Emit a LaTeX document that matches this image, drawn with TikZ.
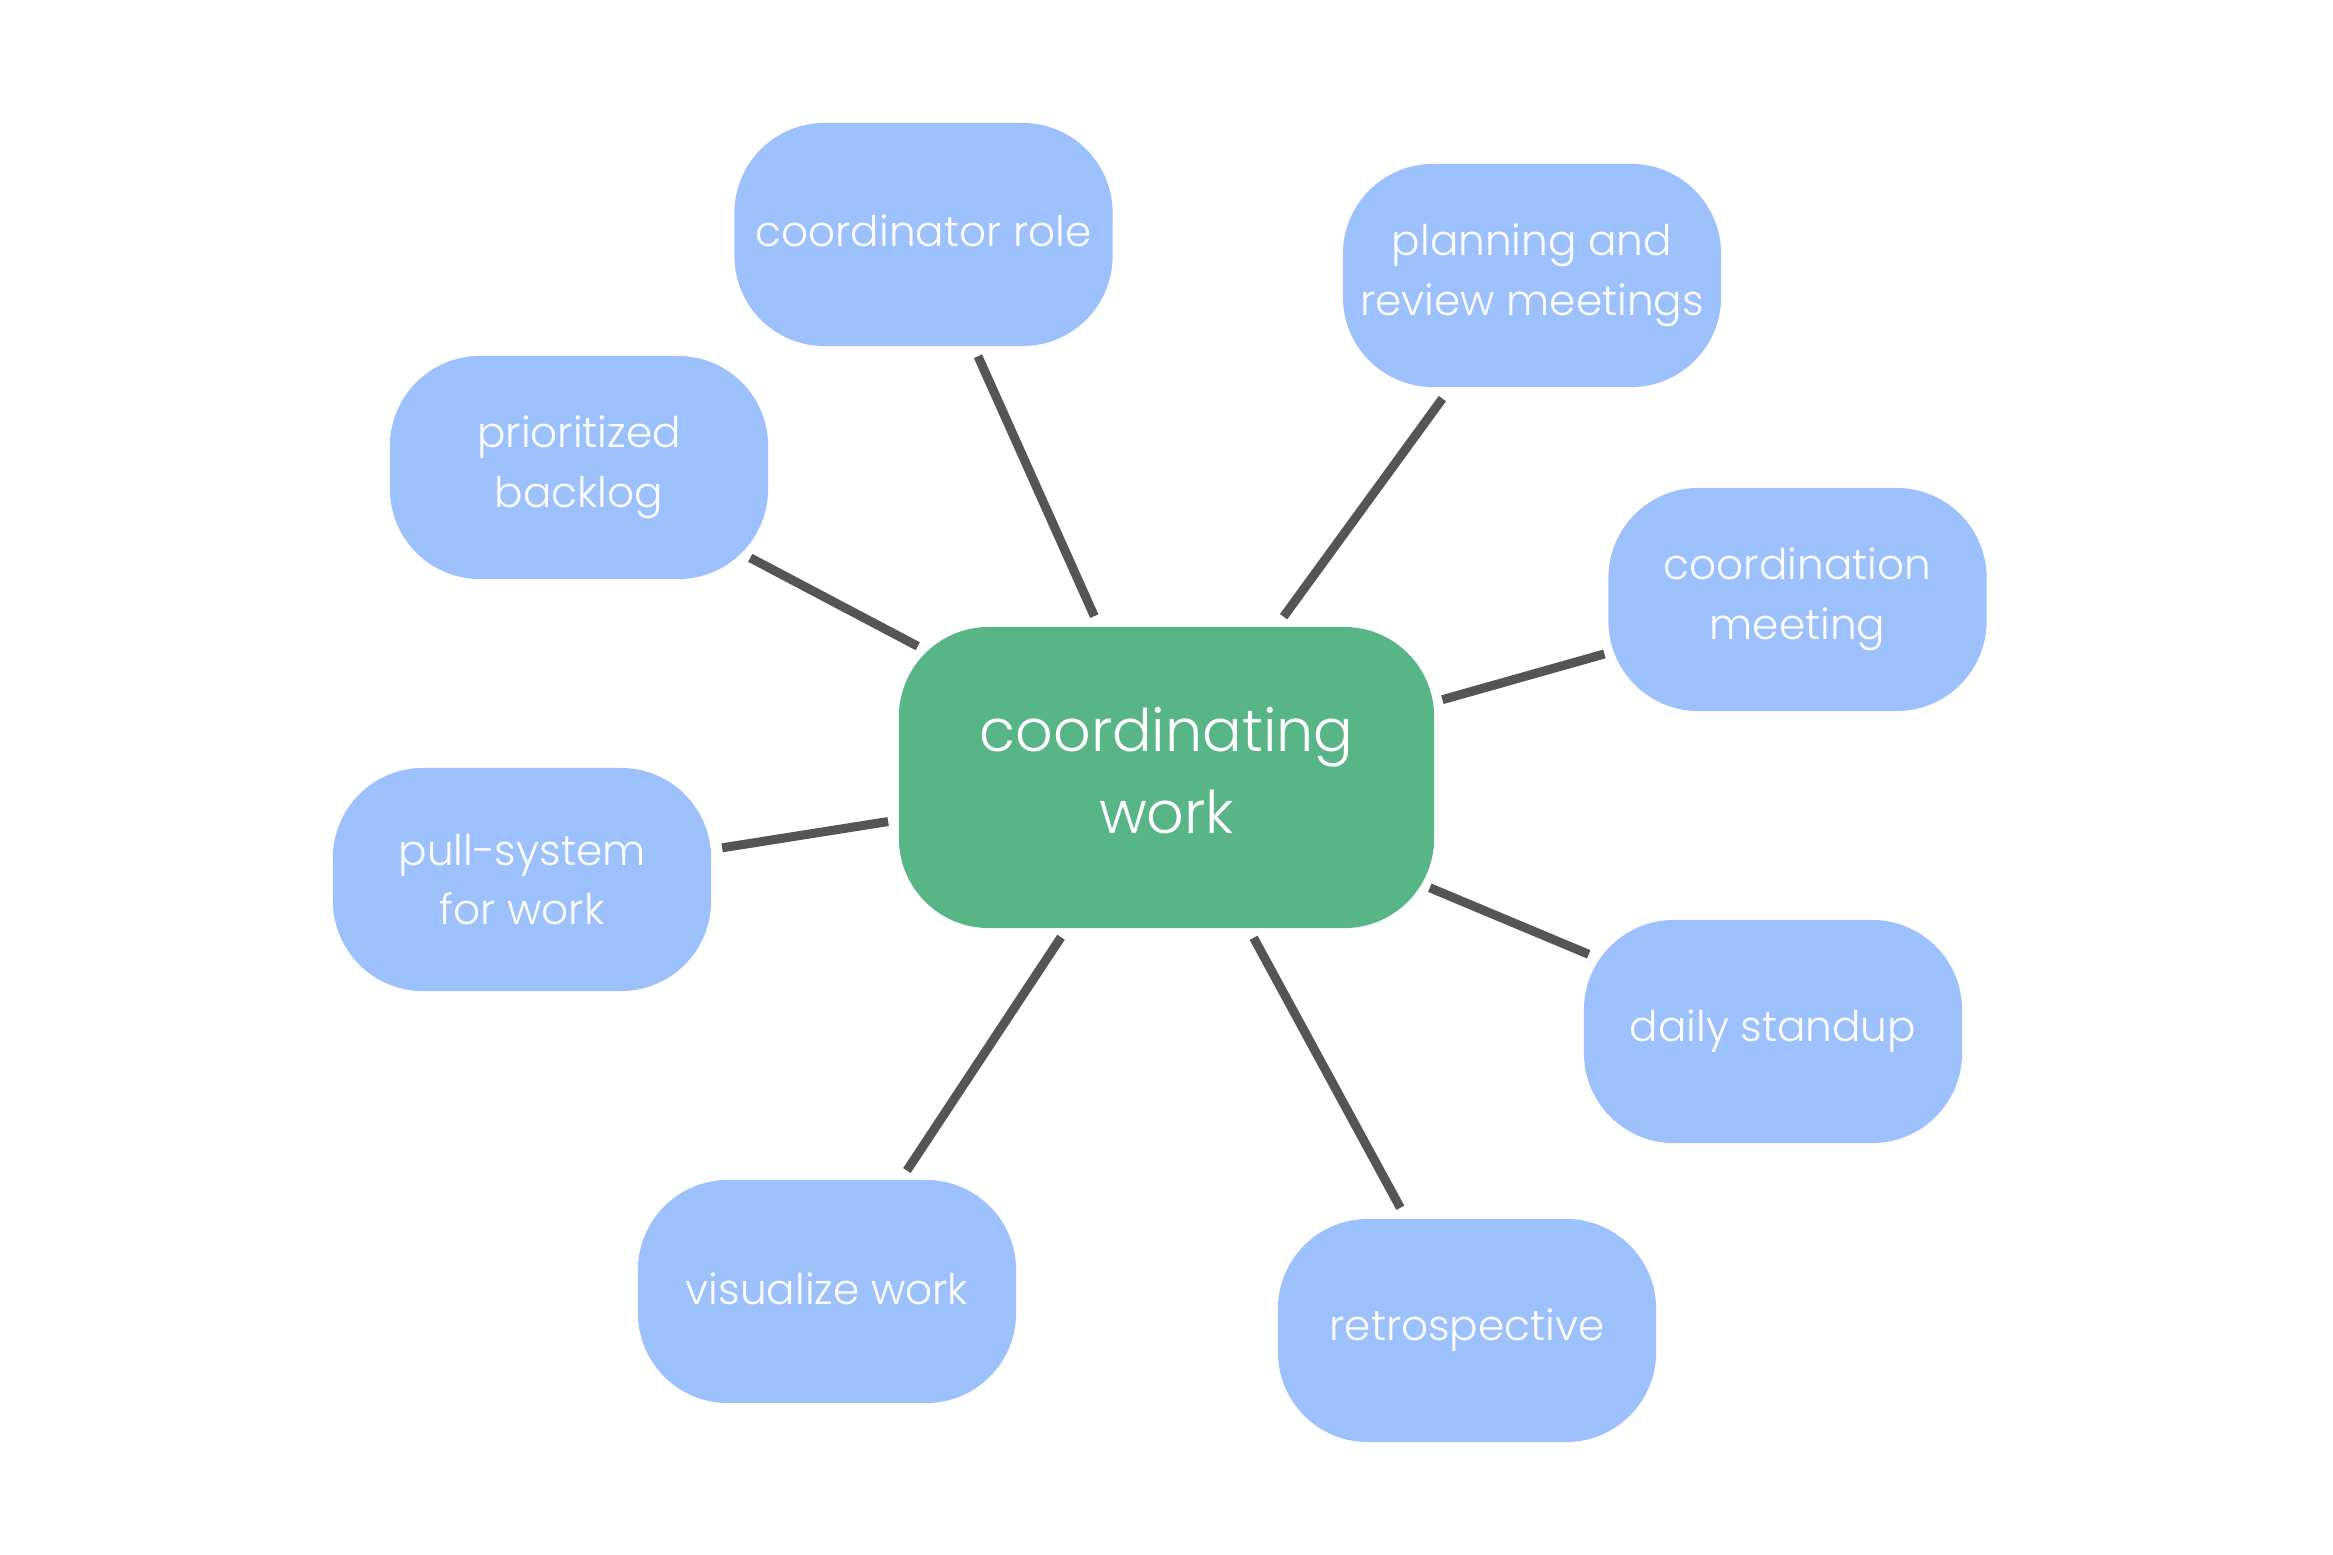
\documentclass[tikz,border=0pt]{standalone}
\usepackage{fontspec}
\setmainfont{Poppins}[UprightFont=* Light]
\definecolor{boxblue}{HTML}{9CC1FD}
\definecolor{boxgreen}{HTML}{57B586}
\definecolor{linegray}{HTML}{555555}
\newcommand{\lift}[1]{\rule[-#1]{0pt}{0pt}}
\begin{document}
\begin{tikzpicture}[x=0.01cm,y=-0.01cm,
  leaf/.style={rectangle, rounded corners=0.9cm, fill=boxblue, text=white,
    minimum width=3.78cm, minimum height=2.23cm, inner sep=0pt, align=center,
    font=\fontsize{12}{16.9}\selectfont},
  hub/.style={rectangle, rounded corners=0.9cm, fill=boxgreen, text=white,
    minimum width=5.35cm, minimum height=3.01cm, inner sep=0pt, align=center,
    font=\fontsize{16.7}{23.5}\selectfont},
  spoke/.style={draw=linegray, line width=0.09cm}]
\useasboundingbox (0,0) rectangle (2333,1555);
\node[hub] (hub) at (1166.5,777.5) {coordinating\\work\lift{0.14cm}};
\node[leaf] (role) at (923.5,234.5) {coordinator role\lift{0.08cm}};
\node[leaf] (plan) at (1532,275.5) {planning and\\review meetings};
\node[leaf] (back) at (579,467.5) {prioritized\\backlog};
\node[leaf] (meet) at (1797.5,599.5) {coordination\\meeting};
\node[leaf] (pull) at (522,879.5) {pull-system\\for work};
\node[leaf] (daily) at (1773,1031.5) {daily standup};
\node[leaf] (vis) at (827,1291.5) {visualize work\lift{0.06cm}};
\node[leaf] (retro) at (1467,1330.5) {retrospective};
\draw[spoke, shorten <=1.333cm, shorten >=1.767cm] (role.center) -- (hub.center);
\draw[spoke, shorten <=1.522cm, shorten >=1.988cm] (plan.center) -- (hub.center);
\draw[spoke, shorten <=1.935cm, shorten >=2.811cm] (back.center) -- (hub.center);
\draw[spoke, shorten <=2.005cm, shorten >=2.865cm] (meet.center) -- (hub.center);
\draw[spoke, shorten <=2.025cm, shorten >=2.817cm] (pull.center) -- (hub.center);
\draw[spoke, shorten <=1.997cm, shorten >=2.853cm] (daily.center) -- (hub.center);
\draw[spoke, shorten <=1.449cm, shorten >=1.913cm] (vis.center) -- (hub.center);
\draw[spoke, shorten <=1.396cm, shorten >=1.823cm] (retro.center) -- (hub.center);
\end{tikzpicture}
\end{document}
